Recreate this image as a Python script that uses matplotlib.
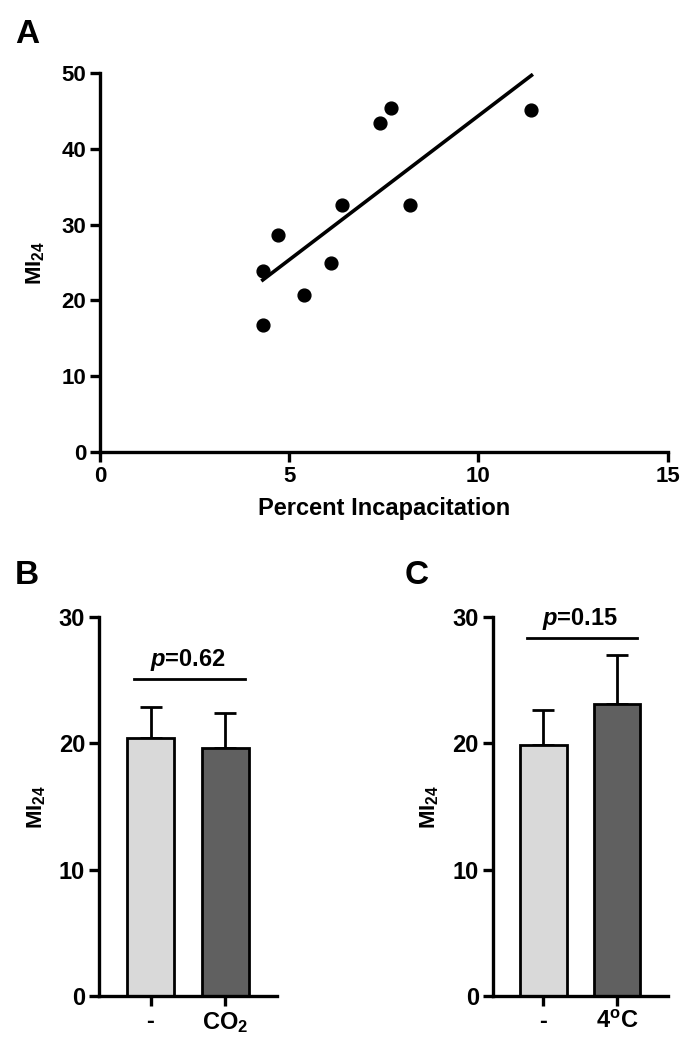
import numpy as np
import matplotlib
matplotlib.use("Agg")
import matplotlib.pyplot as plt

plt.rcParams['font.family'] = ['Liberation Sans', 'DejaVu Sans']
plt.rcParams['font.weight'] = 'bold'
plt.rcParams['axes.labelweight'] = 'bold'
plt.rcParams['mathtext.fontset'] = 'custom'
plt.rcParams['mathtext.rm'] = 'Liberation Sans:bold'
plt.rcParams['mathtext.bf'] = 'Liberation Sans:bold'
plt.rcParams['mathtext.it'] = 'Liberation Sans:italic:bold'
plt.rcParams['mathtext.default'] = 'rm'

# panel A: scatter data
incap = [4.3, 4.3, 4.7, 5.4, 6.1, 6.4, 7.4, 7.7, 8.2, 11.4]
mi24 = [16.7, 23.9, 28.6, 20.7, 25.0, 32.6, 43.4, 45.4, 32.6, 45.1]

# panel B: CO2
b_labels = ["-", r"CO$_2$"]
b_means = [20.4, 19.6]
b_err = [2.5, 2.8]
b_p = r"$\it{p}$=0.62"

# panel C: 4 C
c_labels = ["-", r"4$^{\mathrm{o}}$C"]
c_means = [19.9, 23.1]
c_err = [2.7, 3.9]
c_p = r"$\it{p}$=0.15"

colors = ["#d9d9d9", "#606060"]
fs = 17
lw = 2.4

fig = plt.figure(figsize=(6.97, 10.5), dpi=100)


def style(ax, size):
    for s in ['top', 'right']:
        ax.spines[s].set_visible(False)
    for s in ['left', 'bottom']:
        ax.spines[s].set_linewidth(lw)
    ax.tick_params(width=lw, length=7, labelsize=size, pad=3)


# ---- A
axA = fig.add_axes([0.1435, 0.5695, 0.8145, 0.3610])
axA.scatter(incap, mi24, s=85, color='black', zorder=3)
k, b = np.polyfit(incap, mi24, 1)
xx = np.array([min(incap), max(incap)])
axA.plot(xx, k * xx + b, color='black', lw=2.6)
axA.set_xlim(0, 15)
axA.set_ylim(0, 50)
axA.set_xticks([0, 5, 10, 15])
axA.set_yticks([0, 10, 20, 30, 40, 50])
axA.set_xlabel("Percent Incapacitation", fontsize=fs, labelpad=7)
axA.set_ylabel(r"MI$_{24}$", fontsize=fs - 1, labelpad=10)
style(axA, 16)
fig.text(0.039, 0.967, "A", fontsize=24, fontweight='bold', va='center', ha='center')


def bars(ax, labels, means, err, ptxt, ybar):
    x = np.arange(len(means))
    ax.bar(x, means, width=0.63, color=colors, edgecolor='black', linewidth=2, zorder=2)
    ax.errorbar(x, means, yerr=[np.zeros(len(err)), err], fmt='none', ecolor='black',
                elinewidth=2, capsize=8, capthick=2, zorder=1)
    ax.plot([-0.22, 1.27], [ybar, ybar], color='black', lw=2)
    ax.text(0.5, ybar + 0.5, ptxt, ha='center', va='bottom', fontsize=fs)
    ax.set_xlim(-0.69, 1.69)
    ax.set_ylim(0, 30)
    ax.set_yticks([0, 10, 20, 30])
    ax.set_xticks(x)
    ax.set_xticklabels(labels)
    ax.set_ylabel(r"MI$_{24}$", fontsize=fs - 1, labelpad=8)
    style(ax, fs)


axB = fig.add_axes([0.142, 0.0514, 0.255, 0.361])
bars(axB, b_labels, b_means, b_err, b_p, 25.1)
fig.text(0.039, 0.452, "B", fontsize=24, fontweight='bold', va='center', ha='center')

axC = fig.add_axes([0.707, 0.0514, 0.251, 0.361])
bars(axC, c_labels, c_means, c_err, c_p, 28.3)
fig.text(0.598, 0.452, "C", fontsize=24, fontweight='bold', va='center', ha='center')

fig.savefig("out.png", dpi=100, facecolor='white')
